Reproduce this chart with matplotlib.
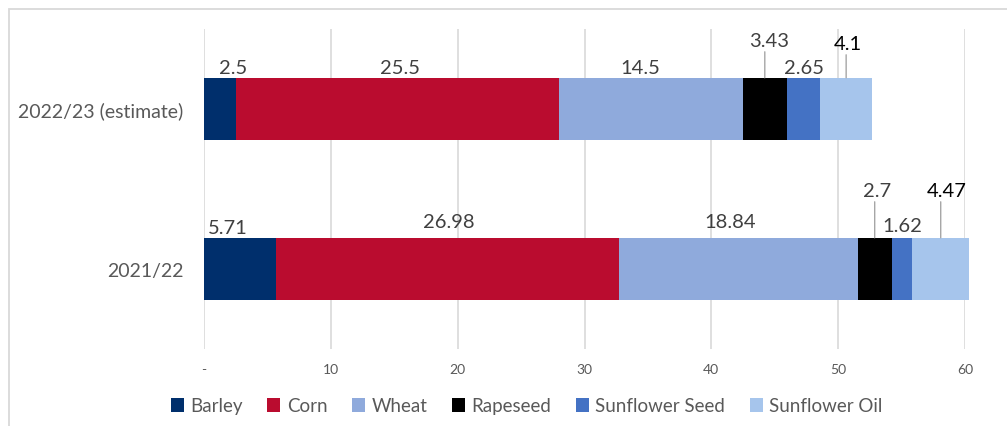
import matplotlib.pyplot as plt
from matplotlib.patches import Rectangle

plt.rcParams['font.family'] = ['Lato', 'DejaVu Sans']

# Data
years = ["2021/22", "2022/23 (estimate)"]
commodities = ["Barley", "Corn", "Wheat", "Rapeseed", "Sunflower Seed", "Sunflower Oil"]
barley = [5.71, 2.5]
corn = [26.98, 25.5]
wheat = [18.84, 14.5]
rapeseed = [2.7, 3.43]
sunflower_seed = [1.62, 2.65]
sunflower_oil = [4.47, 4.1]
series = [barley, corn, wheat, rapeseed, sunflower_seed, sunflower_oil]
x_ticks = [0, 10, 20, 30, 40, 50, 60]
x_tick_labels = ["-", "10", "20", "30", "40", "50", "60"]

colors = ["#002F6C", "#BA0C2F", "#8FAADC", "#000000", "#4472C4", "#A6C5EC"]

# label placement (pixel offsets from bar top centre), leader line flag, text colour
label_style = {
    (0, 0): (-12, 10, False, "#404040"),
    (0, 1): (1, 16, False, "#404040"),
    (0, 2): (-8, 16, False, "#404040"),
    (0, 3): (2, 47, True, "#404040"),
    (0, 4): (0, 12, False, "#404040"),
    (0, 5): (6, 47, True, "#000000"),
    (1, 0): (13, 10, False, "#404040"),
    (1, 1): (3, 10, False, "#404040"),
    (1, 2): (-11, 10, False, "#404040"),
    (1, 3): (4, 37, True, "#404040"),
    (1, 4): (1, 10, False, "#404040"),
    (1, 5): (2, 34, True, "#000000"),
}

fig = plt.figure(figsize=(10.07, 4.27), dpi=100)
ax = fig.add_axes([204 / 1007, 1 - 350 / 427, 761 / 1007, 320 / 427])

# outer frame of the chart
fig.add_artist(Rectangle((9 / 1007, -0.1), 1.2, 1 - 10 / 427 + 0.1,
                         transform=fig.transFigure, fill=False,
                         edgecolor="#D9D9D9", linewidth=1.3))

bar_h = 0.39
left = [0.0, 0.0]
for j, (name, vals) in enumerate(zip(commodities, series)):
    bars = ax.barh([0, 1], vals, left=left, height=bar_h, color=colors[j],
                   label=name, clip_on=False, zorder=3)
    for i, v in enumerate(vals):
        cx = left[i] + v / 2
        top = i + bar_h / 2
        dx, dy, leader, col = label_style[(i, j)]
        ax.annotate(f"{v:g}", xy=(cx, top), xytext=(dx, dy),
                    textcoords="offset pixels", ha="center", va="center",
                    fontsize=14.5, color=col, annotation_clip=False)
        if leader:
            ax.annotate("", xy=(cx, top), xytext=(0, dy - 11),
                        textcoords="offset pixels",
                        arrowprops=dict(arrowstyle="-", color="#A6A6A6", lw=1,
                                        shrinkA=0, shrinkB=0),
                        annotation_clip=False)
    left = [a + b for a, b in zip(left, vals)]

ax.set_xlim(0, 60)
ax.set_ylim(-0.5, 1.5)
ax.set_xticks(x_ticks)
ax.set_xticklabels(x_tick_labels)
ax.set_yticks([0, 1])
ax.set_yticklabels(years)
ax.tick_params(axis="x", length=0, pad=10, labelsize=10, labelcolor="#595959")
ax.tick_params(axis="y", length=0, pad=15, labelsize=14, labelcolor="#595959")
ax.grid(axis="x", color="#D9D9D9", linewidth=1.2, zorder=0)
ax.set_axisbelow(True)
for s in ax.spines.values():
    s.set_visible(False)

fig.legend(loc="center", bbox_to_anchor=(0.523, 1 - 407 / 427), ncol=6,
           frameon=False, fontsize=13.5, handlelength=0.7, handleheight=0.7,
           handletextpad=0.35, columnspacing=1.3, labelcolor="#595959")

fig.savefig("out.png", dpi=100)
